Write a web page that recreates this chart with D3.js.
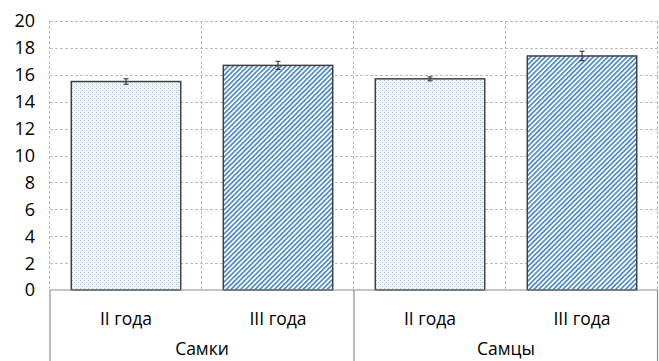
<!DOCTYPE html>
<html>
<head>
<meta charset="utf-8">
<script src="https://cdn.jsdelivr.net/npm/d3@7"></script>
<style>
  html, body { margin: 0; padding: 0; background: #fff; }
  svg { display: block; font-family: "Open Sans", Lato, sans-serif; }
</style>
</head>
<body>
<svg id="chart" width="659" height="361"></svg>
<script>
// Body measurements by sex and age group
const groups = ["Самки", "Самцы"];
const ages = ["II года", "III года"];
const barGroup = ["Самки", "Самки", "Самцы", "Самцы"];
const barAge = ["II года", "III года", "II года", "III года"];
const values = [15.5, 16.7, 15.7, 17.4];
const errors = [0.2, 0.3, 0.15, 0.35];
const yTicks = [0, 2, 4, 6, 8, 10, 12, 14, 16, 18, 20];

const svg = d3.select("#chart");
const W = 659, H = 361;
const m = { left: 50, right: 1, top: 21, bottom: 71 };
const x0 = m.left, x1 = W - m.right, yTop = m.top, yBot = H - m.bottom;

const keys = values.map((_, i) => i);
const x = d3.scaleBand().domain(keys).range([x0, x1]).paddingInner(0.28).paddingOuter(0.14);
const y = d3.scaleLinear().domain([0, 20]).range([yBot, yTop]);

// fill patterns
const defs = svg.append("defs");
const dots = defs.append("pattern").attr("id", "dots")
  .attr("patternUnits", "userSpaceOnUse").attr("width", 4).attr("height", 4);
dots.append("rect").attr("width", 4).attr("height", 4).attr("fill", "#f1f5f9");
dots.append("rect").attr("x", 0).attr("y", 0).attr("width", 1).attr("height", 1).attr("fill", "#a9c3da");
dots.append("rect").attr("x", 2).attr("y", 2).attr("width", 1).attr("height", 1).attr("fill", "#b9cfe2");
dots.append("rect").attr("x", 0).attr("y", 2).attr("width", 1).attr("height", 1).attr("fill", "#d3e0ec");

const stripes = defs.append("pattern").attr("id", "stripes")
  .attr("patternUnits", "userSpaceOnUse").attr("width", 3.4).attr("height", 4)
  .attr("patternTransform", "rotate(45)");
stripes.append("rect").attr("width", 3.4).attr("height", 4).attr("fill", "#ffffff");
stripes.append("rect").attr("width", 1.6).attr("height", 4).attr("fill", "#4585cb");

// horizontal gridlines
svg.append("g").selectAll("line").data(yTicks.filter(d => d > 0)).join("line")
  .attr("x1", x0).attr("x2", x1)
  .attr("y1", d => Math.round(y(d)) + 0.5).attr("y2", d => Math.round(y(d)) + 0.5)
  .attr("stroke", "#bdbdbd").attr("stroke-width", 1).attr("stroke-dasharray", "3,2");

// vertical gridlines at category boundaries
const bounds = keys.map(k => x(k) - x.step() * x.paddingInner() / 2).concat([x1]);
bounds[0] = x0;
svg.append("g").selectAll("line").data(bounds).join("line")
  .attr("x1", d => Math.round(d) - 0.5).attr("x2", d => Math.round(d) - 0.5)
  .attr("y1", yTop).attr("y2", yBot)
  .attr("stroke", "#bdbdbd").attr("stroke-width", 1).attr("stroke-dasharray", "3,2");

// bars
svg.append("g").selectAll("rect").data(keys).join("rect")
  .attr("x", k => x(k)).attr("width", x.bandwidth())
  .attr("y", k => y(values[k])).attr("height", k => yBot - y(values[k]))
  .attr("fill", k => barAge[k] === ages[0] ? "url(#dots)" : "url(#stripes)")
  .attr("stroke", "#404040").attr("stroke-width", 1.5);

// error bars
const eb = svg.append("g").attr("stroke", "#333").attr("stroke-width", 1.1);
keys.forEach(k => {
  const cx = x(k) + x.bandwidth() / 2;
  const lo = y(values[k] - errors[k]), hi = y(values[k] + errors[k]);
  eb.append("line").attr("x1", cx).attr("x2", cx).attr("y1", lo).attr("y2", hi);
  eb.append("line").attr("x1", cx - 2.5).attr("x2", cx + 2.5).attr("y1", lo).attr("y2", lo);
  eb.append("line").attr("x1", cx - 2.5).attr("x2", cx + 2.5).attr("y1", hi).attr("y2", hi);
});

// y axis labels
svg.append("g").selectAll("text").data(yTicks).join("text")
  .attr("x", 35).attr("y", d => y(d)).attr("dy", "0.36em")
  .attr("text-anchor", "end").attr("font-size", 18).attr("fill", "#000")
  .text(d => d);

// category axis frame
const axis = svg.append("g").attr("stroke", "#8c8c8c").attr("stroke-width", 1.2).attr("fill", "none");
axis.append("line").attr("x1", x0).attr("x2", x1).attr("y1", yBot).attr("y2", yBot);
const groupEdges = [x0, (x0 + x1) / 2, x1 - 0.5];
groupEdges.forEach(gx => axis.append("line").attr("x1", gx).attr("x2", gx).attr("y1", yBot).attr("y2", H));

// age labels
svg.append("g").selectAll("text").data(keys).join("text")
  .attr("x", k => x(k) + x.bandwidth() / 2).attr("y", 325)
  .attr("text-anchor", "middle").attr("font-size", 17.5).attr("fill", "#000")
  .text(k => barAge[k]);

// group labels
const gw = (x1 - x0) / groups.length;
svg.append("g").selectAll("text").data(groups).join("text")
  .attr("x", (d, i) => x0 + gw * i + gw / 2).attr("y", 355)
  .attr("text-anchor", "middle").attr("font-size", 17.5).attr("fill", "#000")
  .text(d => d);
</script>
</body>
</html>
